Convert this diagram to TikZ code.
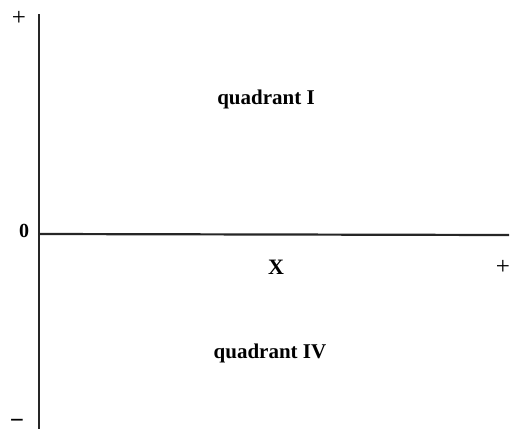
\documentclass[tikz,border=0pt]{standalone}
\usepackage{fontspec}
\setmainfont{Liberation Serif}
\usetikzlibrary{positioning}
\tikzset{
  axisline/.style={line width=2.6pt,black!85},
  quadlabel/.style={font=\bfseries\fontsize{21}{24}\selectfont,inner sep=0pt},
  signlabel/.style={font=\fontsize{25}{28}\selectfont,inner sep=0pt}
}

\begin{document}
\begin{tikzpicture}[x=1pt,y=-1pt]
  \useasboundingbox (0,0) rectangle (511,429);
  % axes
  \coordinate (ytop) at (39,14);
  \coordinate (ybot) at (39,429);
  \coordinate (orig) at (39,234);
  \coordinate (xend) at (509,235);
  \draw[axisline] (ytop) -- (ybot);
  \draw[axisline,line width=2.2pt] (orig) -- (xend);
  % signs
  \node[signlabel] (yplus) at (19,18) {+};
  \node[quadlabel,font=\bfseries\fontsize{20}{22}\selectfont] (zero) at (24,231) {0};
  \node[signlabel,font=\bfseries\fontsize{25}{28}\selectfont,
        text height=6pt,text depth=0pt] (yminus) at (17,425.5) {−};
  \node[signlabel] (xplus) at (503,267) {+};
  \node[quadlabel,font=\bfseries\fontsize{22}{24}\selectfont] (xlab) at (276,267) {X};
  % quadrants
  \node[quadlabel] (qone) at (266,99) {quadrant I};
  \node[quadlabel] (qfour) at (270,353) {quadrant IV};
\end{tikzpicture}
\end{document}
